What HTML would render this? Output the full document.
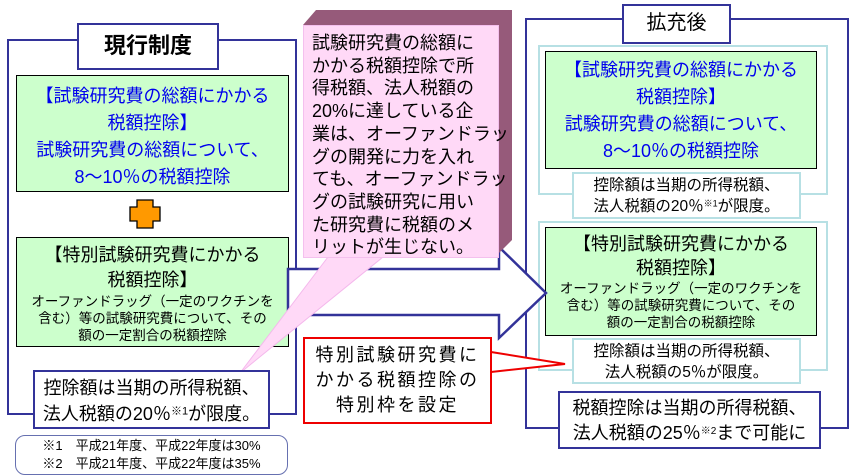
<!DOCTYPE html>
<html><head><meta charset="utf-8"><style>
body{margin:0;width:852px;height:475px;background:#fff;position:relative;overflow:hidden;font-family:"Liberation Sans","Noto Sans CJK JP",sans-serif;}
.a{position:absolute;box-sizing:border-box;}
.t{text-align:center;white-space:nowrap;}
.g{background:#ccffcc;border:1.5px solid #000;}
.nv{border:2.5px solid #333399;background:#fff;}
.lb{border:2.5px solid #b7e0e4;}
sup{line-height:0;vertical-align:0.5em;}
</style></head><body>
<!-- left frame -->
<div class="a" style="left:7px;top:39px;width:290px;height:376px;border:2.5px solid #333399;"></div>
<div class="a nv t" style="left:77px;top:23px;width:142px;height:47px;font-size:22px;line-height:42px;font-weight:bold;">現行制度</div>
<div class="a g t" style="left:16px;top:75px;width:273px;height:117px;color:#0000ee;font-size:18px;line-height:27px;padding-top:7px;">【試験研究費の総額にかかる<br>税額控除】<br>試験研究費の総額について、<br>8～10％の税額控除</div>
<svg class="a" style="left:128px;top:198px" width="36" height="34"><path d="M9 2h16v7h7v14h-7v7H9v-7H2V9h7z" fill="#ff9900" stroke="#000" stroke-width="1.3"/></svg>
<div class="a g t" style="left:16px;top:237px;width:273px;height:110px;font-size:18px;padding-top:5px;"><div style="line-height:25px">【特別試験研究費にかかる<br>税額控除】</div><div style="font-size:13.5px;line-height:17px">オーファンドラッグ（一定のワクチンを<br>含む）等の試験研究費について、その<br>額の一定割合の税額控除</div></div>

<!-- right frame -->
<div class="a" style="left:525px;top:18px;width:324px;height:411px;border:2.5px solid #333399;"></div>
<div class="a nv t" style="left:622px;top:4px;width:109px;height:40px;font-size:20px;line-height:35px;">拡充後</div>
<div class="a lb" style="left:538px;top:45px;width:290px;height:150px;background:#fff"></div>
<div class="a g t" style="left:545px;top:51px;width:272px;height:118px;color:#0000ee;font-size:18px;line-height:27px;padding-top:5px;">【試験研究費の総額にかかる<br>税額控除】<br>試験研究費の総額について、<br>8～10％の税額控除</div>
<div class="a lb t" style="left:572px;top:172px;width:229px;height:47px;background:#fff;font-size:15.5px;line-height:21px;padding-top:1px;">控除額は当期の所得税額、<br>法人税額の20％<sup style="font-size:9px">※1</sup>が限度。</div>
<div class="a lb" style="left:538px;top:221px;width:290px;height:150px;background:#fff"></div>
<div class="a g t" style="left:545px;top:227px;width:272px;height:109px;font-size:18px;padding-top:4px;"><div style="line-height:24px">【特別試験研究費にかかる<br>税額控除】</div><div style="font-size:13.5px;line-height:17px">オーファンドラッグ（一定のワクチンを<br>含む）等の試験研究費について、その<br>額の一定割合の税額控除</div></div>
<div class="a lb t" style="left:572px;top:338px;width:229px;height:46px;background:#fff;font-size:15.5px;line-height:21px;padding-top:1px;">控除額は当期の所得税額、<br>法人税額の5％が限度。</div>
<div class="a nv t" style="left:558px;top:391px;width:263px;height:58px;font-size:18px;line-height:25px;padding-top:3px;">税額控除は当期の所得税額、<br>法人税額の25％<sup style="font-size:10px">※2</sup>まで可能に</div>

<!-- big arrow + red pointer -->
<svg class="a" style="left:0;top:0" width="852" height="475">
<path d="M288 269H499V247L546 293L499 338V315H288Z" fill="#fff" stroke="#333399" stroke-width="2.5"/>
<path d="M491 352L565 364L491 372" fill="#fff" stroke="#ee0000" stroke-width="2"/>
</svg>
<svg class="a" style="left:0;top:0" width="852" height="475">
<path d="M303 25L316 10H512V240L498 254V25Z" fill="#965a7a"/>
<path d="M328 257L383 257L240 373Z" fill="#ffd9f7" stroke="#f4b8ec" stroke-width="1"/>
</svg>
<div class="a" style="left:303px;top:25px;width:196px;height:233px;background:#ffd9f7;border:1px solid #f4c0ee;padding:6px 0 0 8px;font-size:18px;letter-spacing:0px;line-height:22.7px;white-space:nowrap;">試験研究費の総額に<br>かかる税額控除で所<br>得税額、法人税額の<br>20%に達している企<br>業は、オーファンドラッ<br>グの開発に力を入れ<br>ても、オーファンドラッ<br>グの試験研究に用い<br>た研究費に税額のメ<br>リットが生じない。</div>
<div class="a nv t" style="left:33px;top:370px;width:237px;height:59px;font-size:18px;line-height:26px;padding-top:3px;">控除額は当期の所得税額、<br>法人税額の20％<sup style="font-size:11px">※1</sup>が限度。</div>
<div class="a t" style="left:15px;top:435px;width:273px;height:40px;border:1.5px solid #6670b0;border-radius:10px;font-size:13px;line-height:18px;padding-top:1px;">※1　平成21年度、平成22年度は30%<br>※2　平成21年度、平成22年度は35%</div>
<div class="a t" style="left:303px;top:337px;width:189px;height:87px;border:2.5px solid #ee0000;background:#fff;font-size:18px;line-height:25px;padding-top:4px;letter-spacing:2.5px;">特別試験研究費に<br>かかる税額控除の<br>特別枠を設定</div>
</body></html>
